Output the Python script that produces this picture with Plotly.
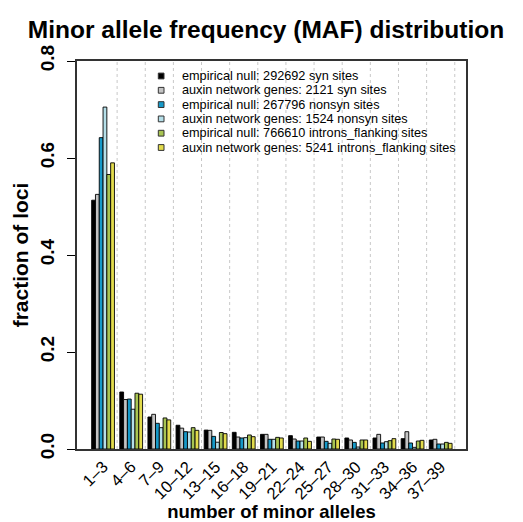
import plotly.graph_objects as go

categories = ["1–3", "4–6", "7–9", "10–12", "13–15", "16–18", "19–21",
              "22–24", "25–27", "28–30", "31–33", "34–36", "37–39"]

series_names = [
    "empirical null: 292692 syn sites",
    "auxin network genes: 2121 syn sites",
    "empirical null: 267796 nonsyn sites",
    "auxin network genes: 1524 nonsyn sites",
    "empirical null: 766610 introns_flanking sites",
    "auxin network genes: 5241 introns_flanking sites",
]

emp_syn = [0.513, 0.1175, 0.066, 0.049, 0.039, 0.0344, 0.0302, 0.0275, 0.0247, 0.0227, 0.0227, 0.0213, 0.0186]
aux_syn = [0.525, 0.102, 0.0715, 0.043, 0.0385, 0.0247, 0.0302, 0.0206, 0.0247, 0.0186, 0.0302, 0.0357, 0.020]
emp_nonsyn = [0.642, 0.103, 0.053, 0.0357, 0.026, 0.0227, 0.020, 0.0165, 0.0158, 0.0137, 0.0124, 0.0124, 0.0103]
aux_nonsyn = [0.705, 0.082, 0.044, 0.035, 0.014, 0.0234, 0.020, 0.0165, 0.0117, 0.0041, 0.0151, 0.0034, 0.0103]
emp_intron = [0.566, 0.115, 0.064, 0.044, 0.034, 0.0289, 0.024, 0.0227, 0.0206, 0.0186, 0.0172, 0.0165, 0.0137]
aux_intron = [0.590, 0.113, 0.060, 0.0385, 0.0316, 0.0254, 0.0227, 0.0158, 0.020, 0.0186, 0.0213, 0.0179, 0.0117]

series_values = [emp_syn, aux_syn, emp_nonsyn, aux_nonsyn, emp_intron, aux_intron]
colors = ["#000000", "#C4C4C4", "#1699C8", "#B5DFE9", "#A8C452", "#E2DB4C"]

y_ticks = [0.0, 0.2, 0.4, 0.6, 0.8]
y_tick_labels = ["0.0", "0.2", "0.4", "0.6", "0.8"]

FONT = "Liberation Sans, Arial, Helvetica, sans-serif"
W, H = 523, 522
L, R, T, B = 77, 466, 61, 449  # plot box in pixels


def px_x(px):
    return (px - L) / (R - L)


def px_y(py):
    return (B - py) / (B - T)


fig = go.Figure()
for name, vals, col in zip(series_names, series_values, colors):
    fig.add_trace(go.Bar(
        x=categories, y=vals, name=name,
        marker=dict(color=col, line=dict(color="#000000", width=0.9)),
        showlegend=False,
    ))

shapes = []
# dotted vertical grid lines between groups
for k in range(len(categories)):
    shapes.append(dict(type="line", xref="x", yref="y", x0=k + 0.5, x1=k + 0.5,
                       y0=0, y1=0.8, layer="below",
                       line=dict(color="#C8C8C8", width=1, dash="dot")))

annotations = []
# legend (drawn manually to match compact spacing)
row0, step = 76.0, 14.3
for i, (name, col) in enumerate(zip(series_names, colors)):
    cy = row0 + i * step
    shapes.append(dict(type="rect", xref="paper", yref="paper",
                       x0=px_x(158.3), x1=px_x(164.0),
                       y0=px_y(cy + 2.9), y1=px_y(cy - 2.9),
                       fillcolor=col, line=dict(color="#333333", width=1)))
    annotations.append(dict(text=name, xref="paper", yref="paper",
                            x=px_x(180), y=px_y(cy), xanchor="left", yanchor="middle",
                            showarrow=False, font=dict(family=FONT, size=12.7, color="#000000")))

fig.update_layout(
    width=W, height=H,
    margin=dict(l=L, r=W - R, t=T, b=H - B, pad=0, autoexpand=False),
    paper_bgcolor="white", plot_bgcolor="white",
    barmode="group", bargap=0.19, bargroupgap=0.0,
    title=dict(text="<b>Minor allele frequency (MAF) distribution</b>",
               x=266 / W, xref="container", xanchor="center",
               y=1 - 29 / H, yref="container", yanchor="middle",
               font=dict(family=FONT, size=24.5, color="#000000")),
    font=dict(family=FONT, color="#000000"),
    shapes=shapes,
    annotations=annotations,
    xaxis=dict(
        type="category", range=[-0.926, 12.90], showgrid=False, zeroline=False,
        automargin=False,
        ticks="", tickangle=-45, tickfont=dict(family=FONT, size=16.5, color="#000000"),
        showline=True, linecolor="#333333", linewidth=1.5, mirror=True,
        title=dict(text="<b>number of minor alleles</b>", standoff=2,
                   font=dict(family=FONT, size=18.5, color="#000000")),
    ),
    yaxis=dict(
        range=[0, 0.8], showgrid=False, zeroline=False,
        automargin=False,
        tickvals=y_ticks, ticktext=y_tick_labels, tickangle=-90,
        ticks="outside", ticklen=8, tickwidth=1.2, tickcolor="#000000",
        ticklabelstandoff=6,
        tickfont=dict(family=FONT, size=19, color="#000000", weight="bold"),
        showline=True, linecolor="#333333", linewidth=1.5, mirror=True,
        title=dict(text="<b>fraction of loci</b>", standoff=2,
                   font=dict(family=FONT, size=21, color="#000000")),
    ),
)

fig.write_html(
    "out.html",
    config={"displayModeBar": False},
    post_script="document.body.style.margin='0';document.body.style.padding='0';"
                "document.documentElement.style.overflow='hidden';",
)
